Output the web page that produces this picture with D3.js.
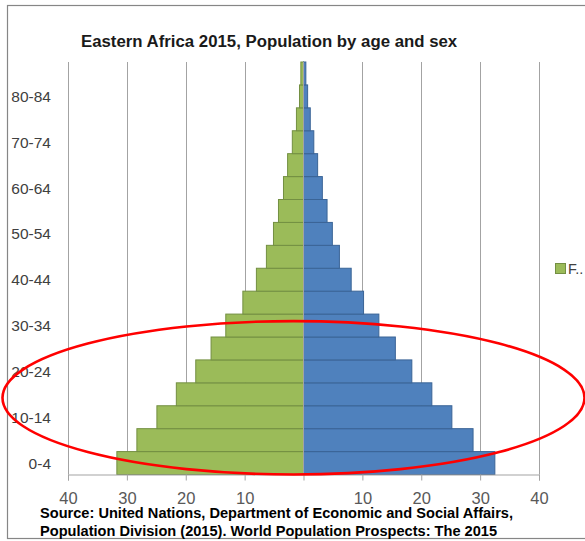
<!DOCTYPE html>
<html>
<head>
<meta charset="utf-8">
<script src="https://cdn.jsdelivr.net/npm/d3@7"></script>
<style>
  body { margin: 0; background: #fff; }
  svg { display: block; font-family: "Liberation Sans", Arial, sans-serif; }
</style>
</head>
<body>
<div id="chart"></div>
<script>
// age groups, bottom to top
var ageGroups = ["0-4", "5-9", "10-14", "15-19", "20-24", "25-29", "30-34", "35-39", "40-44",
    "45-49", "50-54", "55-59", "60-64", "65-69", "70-74", "75-79", "80-84", "85+"];
// left side (green) and right side (blue), millions
var females = [31.7, 28.3, 24.9, 21.6, 18.3, 15.7, 13.2, 10.3, 8.0, 6.3, 5.1, 4.25, 3.4, 2.7, 1.9, 1.2, 0.68, 0.45];
var males = [32.5, 28.8, 25.2, 21.8, 18.4, 15.6, 12.8, 10.2, 8.1, 6.1, 4.9, 4.0, 3.2, 2.4, 1.75, 1.15, 0.7, 0.4];
var xTicks = [-40, -30, -20, -10, 0, 10, 20, 30, 40];
var title = "Eastern Africa 2015, Population by age and sex";
var sourceLines = ["Source: United Nations, Department of Economic and Social Affairs,",
    "Population Division (2015). World Population Prospects: The 2015"];
var legendLabel = "F..";

var W = 585, H = 541;
var plot = { left: 68, right: 539, top: 62, bottom: 474.5 };

var svg = d3.select("#chart")
    .append("svg")
    .attr("width", W)
    .attr("height", H);

// chart frame
svg.append("rect")
    .attr("x", 7.5).attr("y", 5.5)
    .attr("width", 620).attr("height", 533)
    .attr("fill", "#fff")
    .attr("stroke", "#868686")
    .attr("stroke-width", 1.2);

var x = d3.scaleLinear().domain([-40, 40]).range([plot.left, plot.right]);
var y = d3.scaleBand().domain(ageGroups).range([plot.bottom, plot.top]).padding(0);

// vertical gridlines
svg.append("g")
    .selectAll("line")
    .data(xTicks)
    .enter()
    .append("line")
    .attr("x1", function (d) { return Math.round(x(d)) + 0.5 })
    .attr("x2", function (d) { return Math.round(x(d)) + 0.5 })
    .attr("y1", plot.top)
    .attr("y2", plot.bottom)
    .attr("stroke", "#A3A3A3")
    .attr("stroke-width", 1);

// green bars to the left
svg.append("g")
    .selectAll("rect")
    .data(females)
    .enter()
    .append("rect")
    .attr("x", function (d) { return x(-d) })
    .attr("y", function (d, i) { return y(ageGroups[i]) })
    .attr("width", function (d) { return x(0) - x(-d) })
    .attr("height", y.bandwidth())
    .attr("fill", "#9BBB59")
    .attr("stroke", "#738F42")
    .attr("stroke-width", 1);

// blue bars to the right
svg.append("g")
    .selectAll("rect")
    .data(males)
    .enter()
    .append("rect")
    .attr("x", x(0))
    .attr("y", function (d, i) { return y(ageGroups[i]) })
    .attr("width", function (d) { return x(d) - x(0) })
    .attr("height", y.bandwidth())
    .attr("fill", "#4F81BD")
    .attr("stroke", "#3A6496")
    .attr("stroke-width", 1);

// category axis in the middle
svg.append("line")
    .attr("x1", x(0)).attr("x2", x(0))
    .attr("y1", plot.top).attr("y2", plot.bottom)
    .attr("stroke", "#A3A3A3");

// x axis with outward ticks
var xAxis = d3.axisBottom(x)
    .tickValues(xTicks)
    .tickSize(6)
    .tickPadding(12)
    .tickFormat(function (d) { return d == 0 ? "" : Math.abs(d) });
var gx = svg.append("g")
    .attr("transform", "translate(0," + plot.bottom + ")")
    .call(xAxis);
gx.select(".domain").attr("stroke", "#A3A3A3");
gx.selectAll(".tick line").attr("stroke", "#A3A3A3");
gx.selectAll("text")
    .attr("font-size", "16.5px")
    .attr("font-family", "Liberation Sans, Arial, sans-serif")
    .attr("fill", "#595959");

// y labels, every other group
svg.append("g")
    .selectAll("text")
    .data(ageGroups.filter(function (d, i) { return i % 2 == 0 }))
    .enter()
    .append("text")
    .attr("x", 51)
    .attr("y", function (d) { return y(d) + y.bandwidth() / 2 })
    .attr("dy", "0.36em")
    .attr("text-anchor", "end")
    .attr("font-size", "15.5px")
    .attr("fill", "#404040")
    .text(function (d) { return d });

// title
svg.append("text")
    .attr("x", 81)
    .attr("y", 47)
    .attr("font-size", "16.8px")
    .attr("font-weight", "bold")
    .attr("fill", "#1a1a1a")
    .text(title);

// legend, cut off at the right edge
svg.append("rect")
    .attr("x", 555.5).attr("y", 263.5)
    .attr("width", 10).attr("height", 10)
    .attr("fill", "#9BBB59")
    .attr("stroke", "#738F42");
svg.append("text")
    .attr("x", 568)
    .attr("y", 274)
    .attr("font-size", "14.5px")
    .attr("fill", "#404040")
    .text(legendLabel);

// source note
svg.append("g")
    .selectAll("text")
    .data(sourceLines)
    .enter()
    .append("text")
    .attr("x", 40)
    .attr("y", function (d, i) { return 518 + i * 18 })
    .attr("font-size", "14.6px")
    .attr("font-weight", "bold")
    .attr("fill", "#000")
    .text(function (d) { return d });

// red ellipse highlighting the young age groups
var ellTop = y("30-34") + 7, ellBottom = plot.bottom;
svg.append("ellipse")
    .attr("cx", x(-1.7))
    .attr("cy", (ellTop + ellBottom) / 2)
    .attr("rx", 291)
    .attr("ry", (ellBottom - ellTop) / 2)
    .attr("fill", "none")
    .attr("stroke", "#FF0000")
    .attr("stroke-width", 2.6);
</script>
</body>
</html>
